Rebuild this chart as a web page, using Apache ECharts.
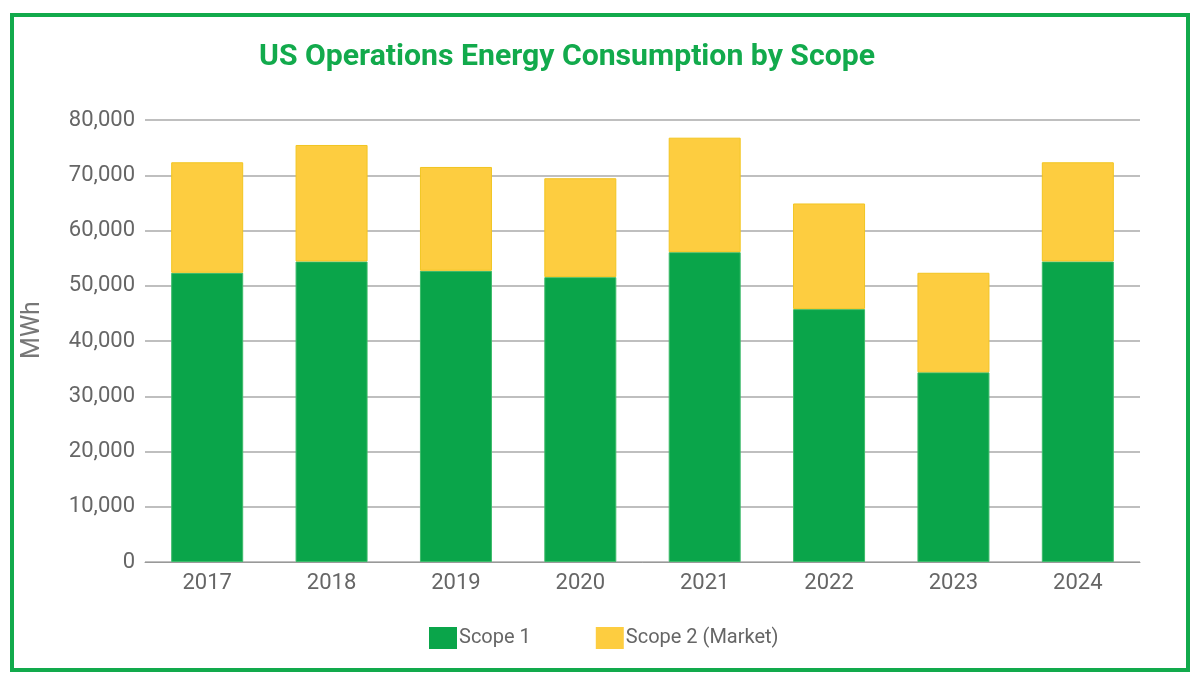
<!DOCTYPE html>
<html>
<head>
<meta charset="utf-8">
<script src="https://cdn.jsdelivr.net/npm/echarts@6/dist/echarts.min.js"></script>
<style>
  html, body { margin: 0; padding: 0; background: #fff; }
  #frame {
    position: absolute; left: 10px; top: 13px; width: 1172px; height: 651px;
    border: 4px solid #12aa4c;
  }
  #chart { position: absolute; left: 0; top: 0; width: 1200px; height: 682px; }
</style>
</head>
<body>
<div id="frame"></div>
<div id="chart"></div>
<script>
  const years = ["2017", "2018", "2019", "2020", "2021", "2022", "2023", "2024"];
  const scope1 = [52350, 54400, 52710, 51560, 56080, 45770, 34330, 54400];
  const totals = [72350, 75480, 71500, 69460, 76800, 64890, 52350, 72350];
  const scope2 = totals.map((t, i) => t - scope1[i]);

  (() => {
    let myChart = echarts.init(document.querySelector("#chart"));
    let option = {
      textStyle: { fontFamily: "Roboto" },
      title: {
        text: "US Operations Energy Consumption by Scope",
        left: 254,
        top: 37,
        textStyle: {
          color: "#12aa4c",
          fontSize: 30.2,
          fontWeight: "bold",
          fontFamily: "Roboto",
        },
      },
      legend: {
        bottom: 28,
        left: 424,
        icon: "rect",
        itemWidth: 28,
        itemHeight: 22,
        itemGap: 65,
        itemStyle: { borderWidth: 0 },
        textStyle: { color: "#666", fontSize: 20, padding: [0, 0, 0, -3] },
        data: ["Scope 1", "Scope 2 (Market)"],
      },
      grid: {
        left: 145,
        right: 60,
        top: 120,
        bottom: 120,
      },
      xAxis: [
        {
          type: "category",
          data: years,
          axisLine: { lineStyle: { color: "#999" } },
          axisTick: { show: false },
          axisLabel: { color: "#666", fontSize: 22, margin: 10 },
        },
      ],
      yAxis: [
        {
          type: "value",
          min: 0,
          max: 80000,
          interval: 10000,
          name: "MWh",
          nameLocation: "middle",
          nameGap: 100,
          nameTextStyle: { color: "#777", fontSize: 25, padding: [0, 0, 0, 22] },
          axisLine: { show: false },
          axisTick: { show: false },
          axisLabel: {
            color: "#666",
            fontSize: 22,
            margin: 10,
            formatter: (v) => v.toLocaleString("en-US"),
          },
          splitLine: { lineStyle: { color: "#aaa", width: 1.5 } },
        },
      ],
      series: [
        {
          name: "Scope 1",
          type: "bar",
          stack: "total",
          barWidth: 72,
          itemStyle: { color: "#0aa54a", borderColor: "#3dbb6a", borderWidth: 1 },
          data: scope1,
        },
        {
          name: "Scope 2 (Market)",
          type: "bar",
          stack: "total",
          barWidth: 72,
          itemStyle: { color: "#fdcd40", borderColor: "#f2c520", borderWidth: 1 },
          data: scope2,
        },
      ],
    };
    myChart.setOption(option);
    window.addEventListener("resize", () => {
      myChart.resize();
    });
  })();
</script>
</body>
</html>
